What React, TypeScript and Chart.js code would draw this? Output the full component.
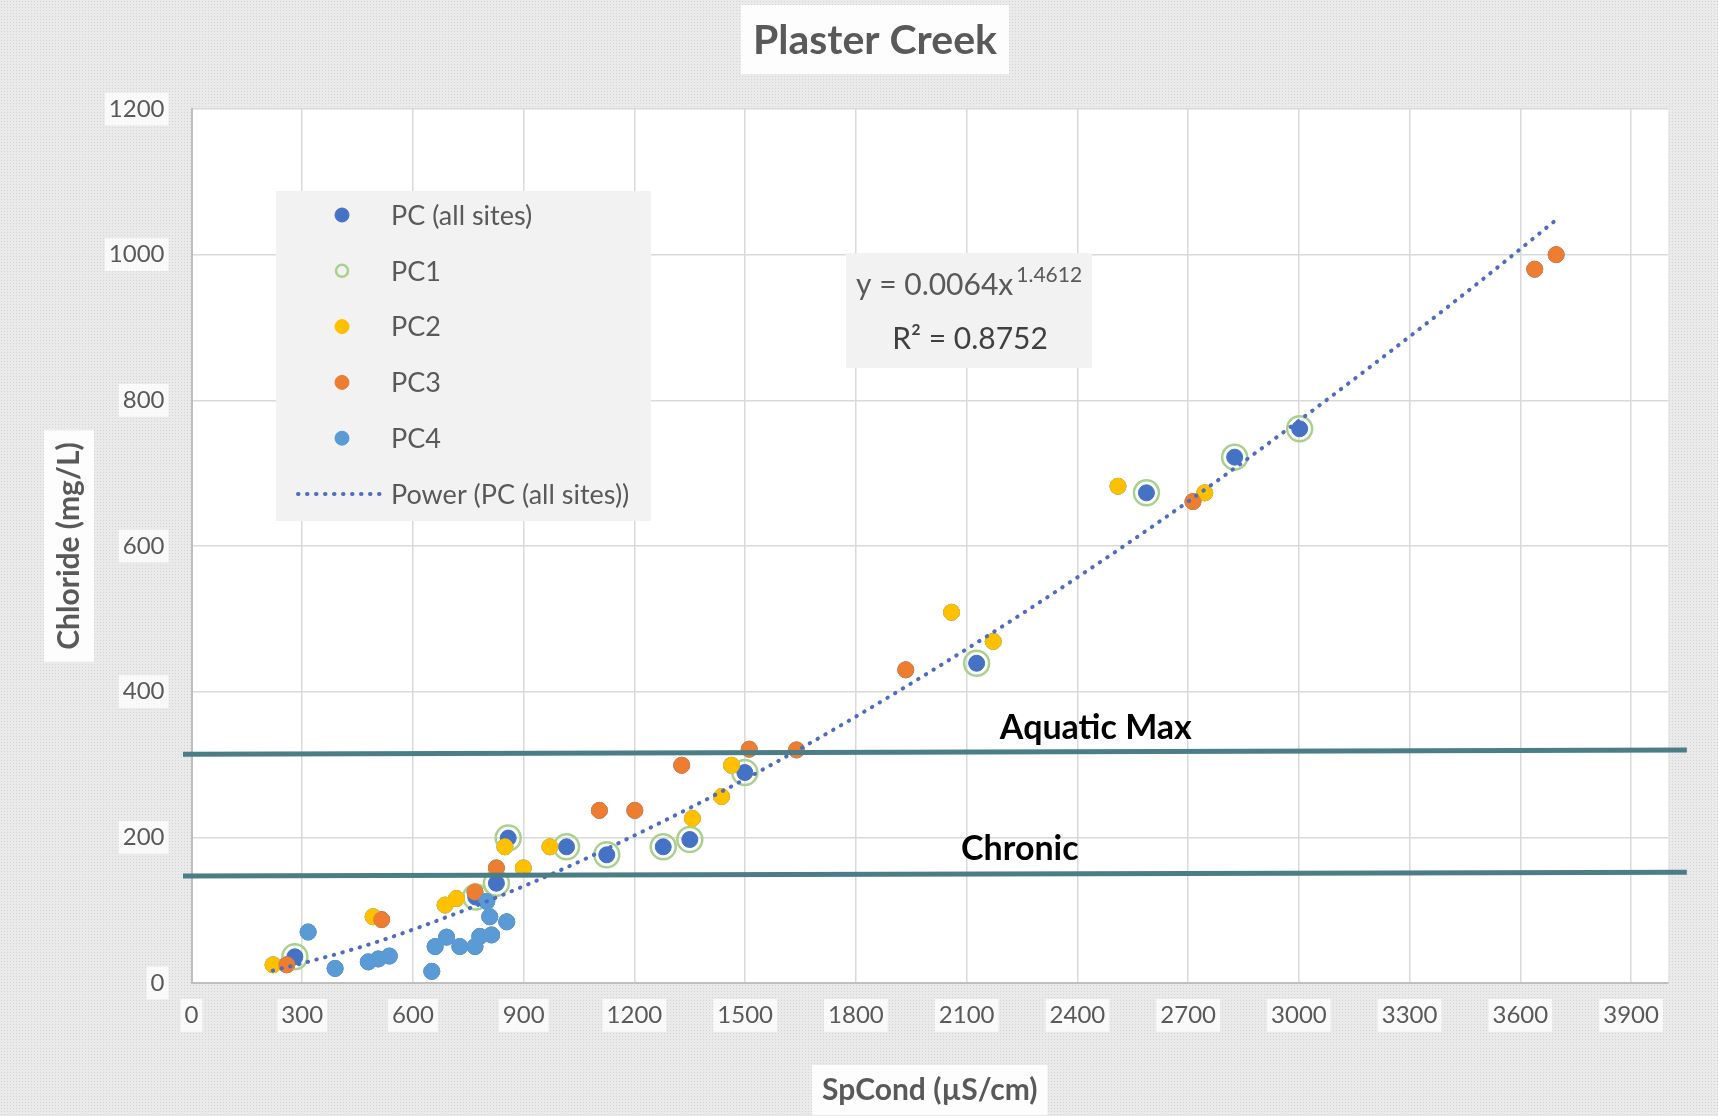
import React, { useEffect, useRef } from "react";
import { Chart, registerables } from "chart.js";

Chart.register(...registerables);

// ---------- data ----------
const xTickValues = [0, 300, 600, 900, 1200, 1500, 1800, 2100, 2400, 2700, 3000, 3300, 3600, 3900];
const yTickValues = [0, 200, 400, 600, 800, 1000, 1200];

const pc1X = [280, 770, 826, 858, 1016, 1125, 1278, 1350, 1499, 2127, 2587, 2826, 3002];
const pc1Y = [36, 118, 137, 199, 187, 176, 187, 197, 289, 439, 673, 722, 761];

const pc2X = [221, 492, 687, 718, 849, 899, 971, 1357, 1436, 1463, 2059, 2172, 2510, 2745];
const pc2Y = [25, 91, 107, 116, 187, 158, 187, 226, 256, 299, 509, 469, 682, 673];

const pc3X = [258, 515, 768, 826, 1105, 1201, 1328, 1511, 1639, 1935, 2713, 3639, 3697];
const pc3Y = [25, 87, 125, 158, 237, 237, 299, 321, 320, 430, 661, 980, 1000];

const pc4X = [316, 389, 479, 506, 536, 651, 660, 691, 727, 768, 781, 813, 808, 854, 800];
const pc4Y = [70, 20, 29, 33, 37, 16, 50, 63, 50, 50, 64, 66, 91, 84, 112];

// power trendline
const trendX = [220, 300, 500, 750, 1000, 1250, 1500, 1750, 2000, 2250, 2500, 2750, 3000, 3250, 3500, 3700];
const trendY = [17, 27, 56, 102, 155, 215, 280, 351, 427, 507, 591, 679, 772, 868, 967, 1049];

// hand-drawn reference lines (span slightly beyond the axes)
const aquaticMaxX = [-23, 4051];
const aquaticMaxY = [314, 320];
const chronicX = [-23, 4051];
const chronicY = [147, 152];

const equationText = "y = 0.0064x";
const equationExp = "1.4612";
const r2Text = "R² = 0.8752";

// ---------- helpers ----------
const pts = (xs: number[], ys: number[]) => xs.map((x, i) => ({ x, y: ys[i] }));
const FONT = "Lato, 'Open Sans', 'Noto Sans', sans-serif";
const GRAY_TEXT = "#595959";

const decorPlugin = {
  id: "decor",
  beforeDraw(chart: any) {
    const { ctx, chartArea: ca } = chart;
    ctx.save();
    ctx.fillStyle = "#ffffff";
    ctx.fillRect(ca.left, ca.top, ca.right - ca.left, ca.bottom - ca.top);

    ctx.fillStyle = "rgba(255,255,255,0.9)";
    // title backdrop
    ctx.font = `bold 41px ${FONT}`;
    const tw = ctx.measureText("Plaster Creek").width;
    const tcx = (82 + ca.right) / 2;
    ctx.fillRect(tcx - tw / 2 - 12, 5, tw + 24, 69);
    // axis title backdrops
    ctx.font = `bold 30px ${FONT}`;
    const yw = ctx.measureText("Chloride (mg/L)").width;
    const ycy = (ca.top + ca.bottom) / 2;
    ctx.fillRect(69 - 25, ycy - yw / 2 - 12, 50, yw + 24);
    const xw = ctx.measureText("SpCond (µS/cm)").width;
    const xcx = (ca.left + ca.right) / 2;
    ctx.fillRect(xcx - xw / 2 - 10, 1090 - 25, xw + 20, 50);
    ctx.restore();
  },
  afterDraw(chart: any) {
    const { ctx, chartArea: ca, scales } = chart;
    ctx.save();

    // ---- legend ----
    const items = chart.data.datasets.filter((d: any) => !d.hideInLegend);
    const bx = ca.left + 84.5;
    const by = ca.top + 82;
    ctx.fillStyle = "#F2F2F2";
    ctx.fillRect(bx, by, 375, 330);
    ctx.font = `27px ${FONT}`;
    ctx.textBaseline = "middle";
    ctx.textAlign = "left";
    items.forEach((d: any, i: number) => {
      const cy = by + 24 + i * 55.8;
      if (d.showLine) {
        ctx.save();
        ctx.strokeStyle = d.borderColor;
        ctx.lineWidth = d.borderWidth;
        ctx.lineCap = "round";
        ctx.setLineDash(d.borderDash);
        ctx.beginPath();
        ctx.moveTo(bx + 22, cy);
        ctx.lineTo(bx + 104, cy);
        ctx.stroke();
        ctx.restore();
      } else {
        ctx.beginPath();
        ctx.arc(bx + 66, cy, d.legendRadius, 0, Math.PI * 2);
        if (d.backgroundColor !== "rgba(0,0,0,0)") {
          ctx.fillStyle = d.backgroundColor;
          ctx.fill();
        }
        ctx.lineWidth = d.borderWidth;
        ctx.strokeStyle = d.borderColor;
        ctx.stroke();
      }
      ctx.fillStyle = GRAY_TEXT;
      ctx.fillText(d.label, bx + 115, cy + 1);
    });

    // ---- equation box ----
    const ex = ca.left + 654.5;
    const ey = ca.top + 144;
    ctx.fillStyle = "#F2F2F2";
    ctx.fillRect(ex, ey, 246, 115);
    ctx.fillStyle = GRAY_TEXT;
    ctx.textAlign = "left";
    ctx.textBaseline = "alphabetic";
    ctx.font = `30px ${FONT}`;
    const eqW = ctx.measureText(equationText).width;
    ctx.fillText(equationText, ex + 10, ey + 42);
    ctx.font = `21px ${FONT}`;
    ctx.fillText(equationExp, ex + 13 + eqW, ey + 29);
    ctx.fillStyle = "#404040";
    ctx.font = `30px ${FONT}`;
    ctx.textAlign = "center";
    ctx.fillText(r2Text, ex + 124, ey + 96);

    // ---- reference line labels ----
    ctx.fillStyle = "#000000";
    ctx.font = `bold 34px ${FONT}`;
    ctx.textBaseline = "middle";
    ctx.textAlign = "center";
    ctx.fillText("Aquatic Max", scales.x.getPixelForValue(2450), scales.y.getPixelForValue(350));
    ctx.fillText("Chronic", scales.x.getPixelForValue(2244), scales.y.getPixelForValue(184));
    ctx.restore();
  },
};

export default function App() {
  const ref = useRef<HTMLCanvasElement | null>(null);

  useEffect(() => {
    if (!ref.current) return;
    const pcAll = [...pts(pc1X, pc1Y), ...pts(pc2X, pc2Y), ...pts(pc3X, pc3Y), ...pts(pc4X, pc4Y)];
    const pointDs = (label: string, data: any[], color: string, order: number) => ({
      label,
      data,
      backgroundColor: color,
      borderColor: color,
      borderWidth: 1,
      pointRadius: 8,
      pointHoverRadius: 8,
      legendRadius: 7,
      showLine: false,
      order,
    });
    const refLine = (label: string, xs: number[], ys: number[]) => ({
      label,
      data: pts(xs, ys),
      showLine: true,
      borderColor: "#4B7D87",
      borderWidth: 5,
      pointRadius: 0,
      clip: false,
      hideInLegend: true,
      order: -1,
    });

    const chart = new Chart(ref.current, {
      type: "scatter",
      data: {
        datasets: [
          pointDs("PC (all sites)", pcAll, "#4472C4", 5),
          {
            label: "PC1",
            data: pts(pc1X, pc1Y),
            backgroundColor: "rgba(0,0,0,0)",
            borderColor: "#A9D18E",
            borderWidth: 2.5,
            pointRadius: 12.5,
            legendRadius: 6,
            showLine: false,
            order: 4,
          } as any,
          pointDs("PC2", pts(pc2X, pc2Y), "#FFC000", 3),
          pointDs("PC3", pts(pc3X, pc3Y), "#ED7D31", 2),
          pointDs("PC4", pts(pc4X, pc4Y), "#5B9BD5", 1),
          {
            label: "Power (PC (all sites))",
            data: pts(trendX, trendY),
            showLine: true,
            borderColor: "#4F6CC0",
            borderWidth: 4,
            borderDash: [0.5, 8.5],
            borderCapStyle: "round",
            cubicInterpolationMode: "monotone",
            pointRadius: 0,
            order: 0,
          } as any,
          refLine("Aquatic Max", aquaticMaxX, aquaticMaxY) as any,
          refLine("Chronic", chronicX, chronicY) as any,
        ],
      },
      options: {
        responsive: false,
        animation: false,
        devicePixelRatio: 1,
        layout: { padding: { left: 82, right: 50, top: 0, bottom: 0 } },
        plugins: {
          legend: { display: false },
          tooltip: { enabled: false },
          title: {
            display: true,
            text: "Plaster Creek",
            color: GRAY_TEXT,
            font: { family: FONT, size: 41, weight: "bold", lineHeight: 1.2 },
            padding: { top: 16, bottom: 43.8 },
          },
        },
        scales: {
          x: {
            type: "linear",
            min: 0,
            max: 4000,
            afterBuildTicks: (s: any) => {
              s.ticks = xTickValues.map((v) => ({ value: v }));
            },
            afterFit: (s: any) => {
              s.height = 133;
            },
            grid: { color: "#D9D9D9", lineWidth: 1.5, drawTicks: false },
            border: { color: "#BFBFBF", width: 2 },
            ticks: {
              color: GRAY_TEXT,
              font: { family: FONT, size: 24 },
              padding: 18,
              maxRotation: 0,
              autoSkip: false,
              callback: (v: any) => String(v),
              showLabelBackdrop: true,
              backdropColor: "rgba(255,255,255,0.75)",
              backdropPadding: { left: 4, right: 4, top: 2, bottom: 2 },
            },
            title: {
              display: true,
              text: "SpCond (µS/cm)",
              color: GRAY_TEXT,
              font: { family: FONT, size: 30, weight: "bold", lineHeight: 1.2 },
              padding: { top: 0, bottom: 8 },
            },
          },
          y: {
            type: "linear",
            min: 0,
            max: 1200,
            afterBuildTicks: (s: any) => {
              s.ticks = yTickValues.map((v) => ({ value: v }));
            },
            afterFit: (s: any) => {
              s.width = 109.5;
            },
            grid: { color: "#D9D9D9", lineWidth: 1.5, drawTicks: false },
            border: { color: "#BFBFBF", width: 2 },
            ticks: {
              color: GRAY_TEXT,
              font: { family: FONT, size: 24 },
              padding: 27,
              autoSkip: false,
              callback: (v: any) => String(v),
              showLabelBackdrop: true,
              backdropColor: "rgba(255,255,255,0.75)",
              backdropPadding: { left: 4, right: 4, top: 2, bottom: 2 },
            },
            title: {
              display: true,
              text: "Chloride (mg/L)",
              color: GRAY_TEXT,
              font: { family: FONT, size: 30, weight: "bold", lineHeight: 1.2 },
              padding: { top: -31, bottom: 0 },
            },
          },
        },
      } as any,
      plugins: [decorPlugin],
    });
    return () => chart.destroy();
  }, []);

  return (
    <div
      style={{
        position: "fixed",
        left: 0,
        top: 0,
        width: 1718,
        height: 1116,
        backgroundColor: "#EAEAEA",
        backgroundImage: "radial-gradient(circle, #D4D4D4 0.8px, transparent 1px)",
        backgroundSize: "3px 3px",
      }}
    >
      <canvas ref={ref} width={1718} height={1116} style={{ display: "block", width: 1718, height: 1116 }} />
    </div>
  );
}
